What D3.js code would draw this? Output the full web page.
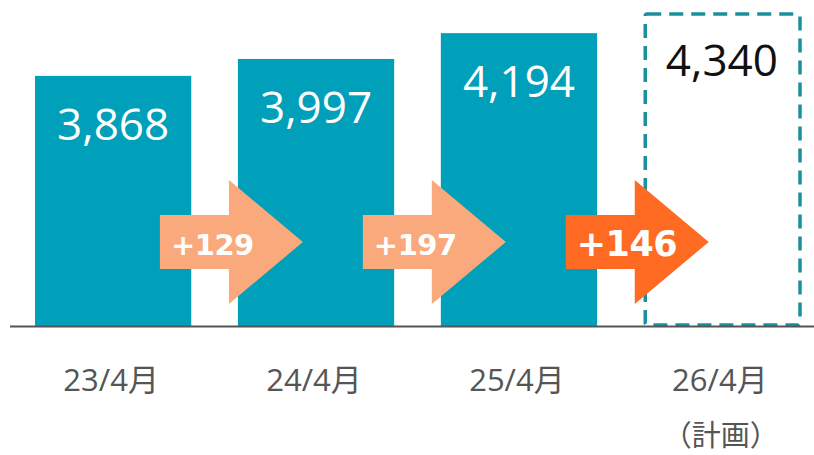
<!DOCTYPE html>
<html>
<head>
<meta charset="utf-8">
<script src="https://cdn.jsdelivr.net/npm/d3@7"></script>
<style>
  html, body { margin: 0; padding: 0; background: #fff; }
  svg { display: block; }
</style>
</head>
<body>
<div id="chart"></div>
<script>
// data
const categories = ['23/4月', '24/4月', '25/4月', '26/4月'];
const subLabels = ['', '', '', '（計画）'];
const values = [3868, 3997, 4194, 4340];
const isPlan = [false, false, false, true];
const deltas = ['+129', '+197', '+146'];
const deltaHighlight = [false, false, true];

const width = 814, height = 455;
const baseY = 326;

const svg = d3.select('#chart')
    .append('svg')
    .attr('width', width)
    .attr('height', height);

// scales
const x = d3.scaleBand()
    .domain(categories)
    .range([35, 800])
    .paddingInner(0.23)
    .paddingOuter(0);

// axis is cut, does not start at zero
const y = d3.scaleLinear()
    .domain([1960, 4340])
    .range([baseY, 14]);

const bw = x.bandwidth();

// bars
categories.forEach((c, i) => {
    if (isPlan[i]) {
        svg.append('rect')
            .attr('x', x(c) + 1.5)
            .attr('y', y(values[i]))
            .attr('width', bw - 1.5)
            .attr('height', baseY - y(values[i]) - 1)
            .attr('rx', 2)
            .attr('fill', 'none')
            .attr('stroke', '#1b909d')
            .attr('stroke-width', 3.5)
            .attr('stroke-dasharray', '14,8');
    } else {
        svg.append('rect')
            .attr('x', x(c))
            .attr('y', y(values[i]))
            .attr('width', bw)
            .attr('height', baseY - y(values[i]))
            .attr('fill', '#009fba');
    }
});

// value labels
svg.selectAll('.val')
    .data(values)
    .join('text')
    .attr('class', 'val')
    .attr('x', (d, i) => x(categories[i]) + bw / 2)
    .attr('y', (d, i) => y(d) + (isPlan[i] ? 62 : 64))
    .attr('text-anchor', 'middle')
    .attr('font-family', '"Open Sans", sans-serif')
    .attr('font-size', 44)
    .attr('fill', (d, i) => isPlan[i] ? '#111' : '#fff')
    .text(d => d3.format(',')(d));

// baseline
svg.append('line')
    .attr('x1', 10)
    .attr('x2', width)
    .attr('y1', baseY + 0.5)
    .attr('y2', baseY + 0.5)
    .attr('stroke', '#555')
    .attr('stroke-width', 2);

// arrows between bars
deltas.forEach((t, i) => {
    const nx = x(categories[i + 1]);
    const x0 = nx - 78, xh = nx - 9, xt = nx + 65;
    const pts = [[x0, 215], [xh, 215], [xh, 180], [xt, 242], [xh, 304], [xh, 269], [x0, 269]];
    svg.append('path')
        .attr('d', d3.line()(pts) + 'Z')
        .attr('fill', deltaHighlight[i] ? '#ff6b22' : '#f9a97c');
    svg.append('text')
        .attr('x', x0 + 11)
        .attr('y', deltaHighlight[i] ? 256 : 255)
        .attr('font-family', '"DejaVu Sans", sans-serif')
        .attr('font-weight', 'bold')
        .attr('font-size', deltaHighlight[i] ? 35 : 29)
        .attr('letter-spacing', -0.5)
        .attr('fill', '#fff')
        .text(t);
});

// category labels
svg.selectAll('.cat')
    .data(categories)
    .join('text')
    .attr('class', 'cat')
    .attr('x', d => x(d) + bw / 2 - 2)
    .attr('y', 391)
    .attr('text-anchor', 'middle')
    .attr('font-family', '"Open Sans", "Noto Sans CJK JP", sans-serif')
    .attr('font-size', 31)
    .attr('fill', '#555')
    .text(d => d);

svg.selectAll('.sub')
    .data(subLabels)
    .join('text')
    .attr('class', 'sub')
    .attr('x', (d, i) => x(categories[i]) + bw / 2 - 1)
    .attr('y', 446)
    .attr('text-anchor', 'middle')
    .attr('font-family', '"Noto Sans CJK JP", sans-serif')
    .attr('font-size', 29)
    .attr('fill', '#555')
    .text(d => d);
</script>
</body>
</html>
